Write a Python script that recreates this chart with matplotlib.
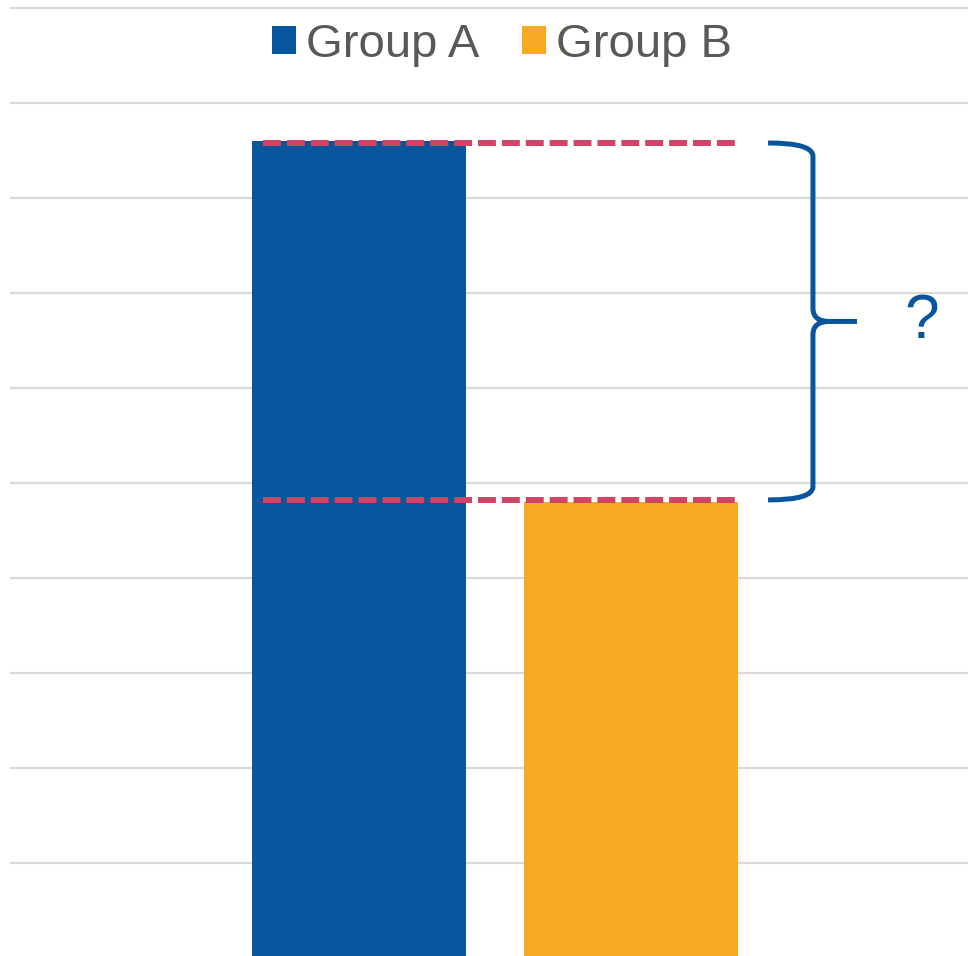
import numpy as np
import matplotlib.pyplot as plt
from matplotlib.patches import Patch
from matplotlib.path import Path
from matplotlib.patches import PathPatch

plt.rcParams['font.family'] = ['Liberation Sans', 'DejaVu Sans']

grupos = ["Group A", "Group B"]
valores = [8.6, 4.8]
colores = ["#08569E", "#F9A823"]
posiciones = [0.0, 1.0]
ancho = 0.787

azul = "#08559E"
rosa = "#D04466"

fig = plt.figure(figsize=(9.68, 9.56), dpi=100)
ax = fig.add_axes([10 / 968, 0, 958 / 968, 1])

ax.bar(posiciones, valores, width=ancho, color=colores, zorder=2)

ax.set_xlim(-1.283, 2.239)
ax.set_ylim(0.016, 10.086)
ax.set_yticks(np.arange(1, 11))
ax.grid(axis="y", color="#D9D9D9", linewidth=1.6, zorder=0)
ax.tick_params(left=False, bottom=False, labelleft=False, labelbottom=False)
for s in ax.spines.values():
    s.set_visible(False)

# Lineas punteadas entre las alturas de las barras
x_ini = posiciones[0] - ancho / 2 + 0.04
x_fin = posiciones[1] + ancho / 2 - 0.008
arriba, abajo = valores[0] - 0.02, valores[1] + 0.02
for v in (arriba, abajo):
    ax.plot([x_ini, x_fin], [v, v], color=rosa, linewidth=4.3,
            dashes=(3, 1), solid_capstyle="butt", dash_capstyle="butt", zorder=3)

# Llave que marca la diferencia
medio = (arriba + abajo) / 2
x0, xv, xp = 1.504, 1.669, 1.831
dy = 0.14
codigos = [Path.MOVETO, Path.CURVE3, Path.CURVE3, Path.LINETO, Path.CURVE3, Path.CURVE3,
           Path.LINETO, Path.MOVETO, Path.CURVE3, Path.CURVE3, Path.LINETO,
           Path.CURVE3, Path.CURVE3]
verts = [(x0, arriba), (xv, arriba), (xv, arriba - dy), (xv, medio + dy),
         (xv, medio), (xv + 0.06, medio), (xp, medio),
         (xv + 0.06, medio), (xv, medio), (xv, medio - dy), (xv, abajo + dy),
         (xv, abajo), (x0, abajo)]
ax.add_patch(PathPatch(Path(verts, codigos), facecolor="none", edgecolor=azul,
                       linewidth=3.6, capstyle="butt", joinstyle="round",
                       clip_on=False, zorder=3))
ax.text(2.07, medio, "?", color=azul, fontsize=45, ha="center", va="center")

handles = [Patch(facecolor=c, edgecolor="none") for c in colores]
ax.legend(handles, grupos, loc="center", bbox_to_anchor=(507 / 968 - 10 / 958, 1 - 45 / 956),
          ncol=2, frameon=False, fontsize=34, labelcolor="#595959",
          handlelength=0.52, handleheight=0.52, handletextpad=0.2,
          columnspacing=0.9, borderaxespad=0)

fig.savefig("out.png", dpi=100)
